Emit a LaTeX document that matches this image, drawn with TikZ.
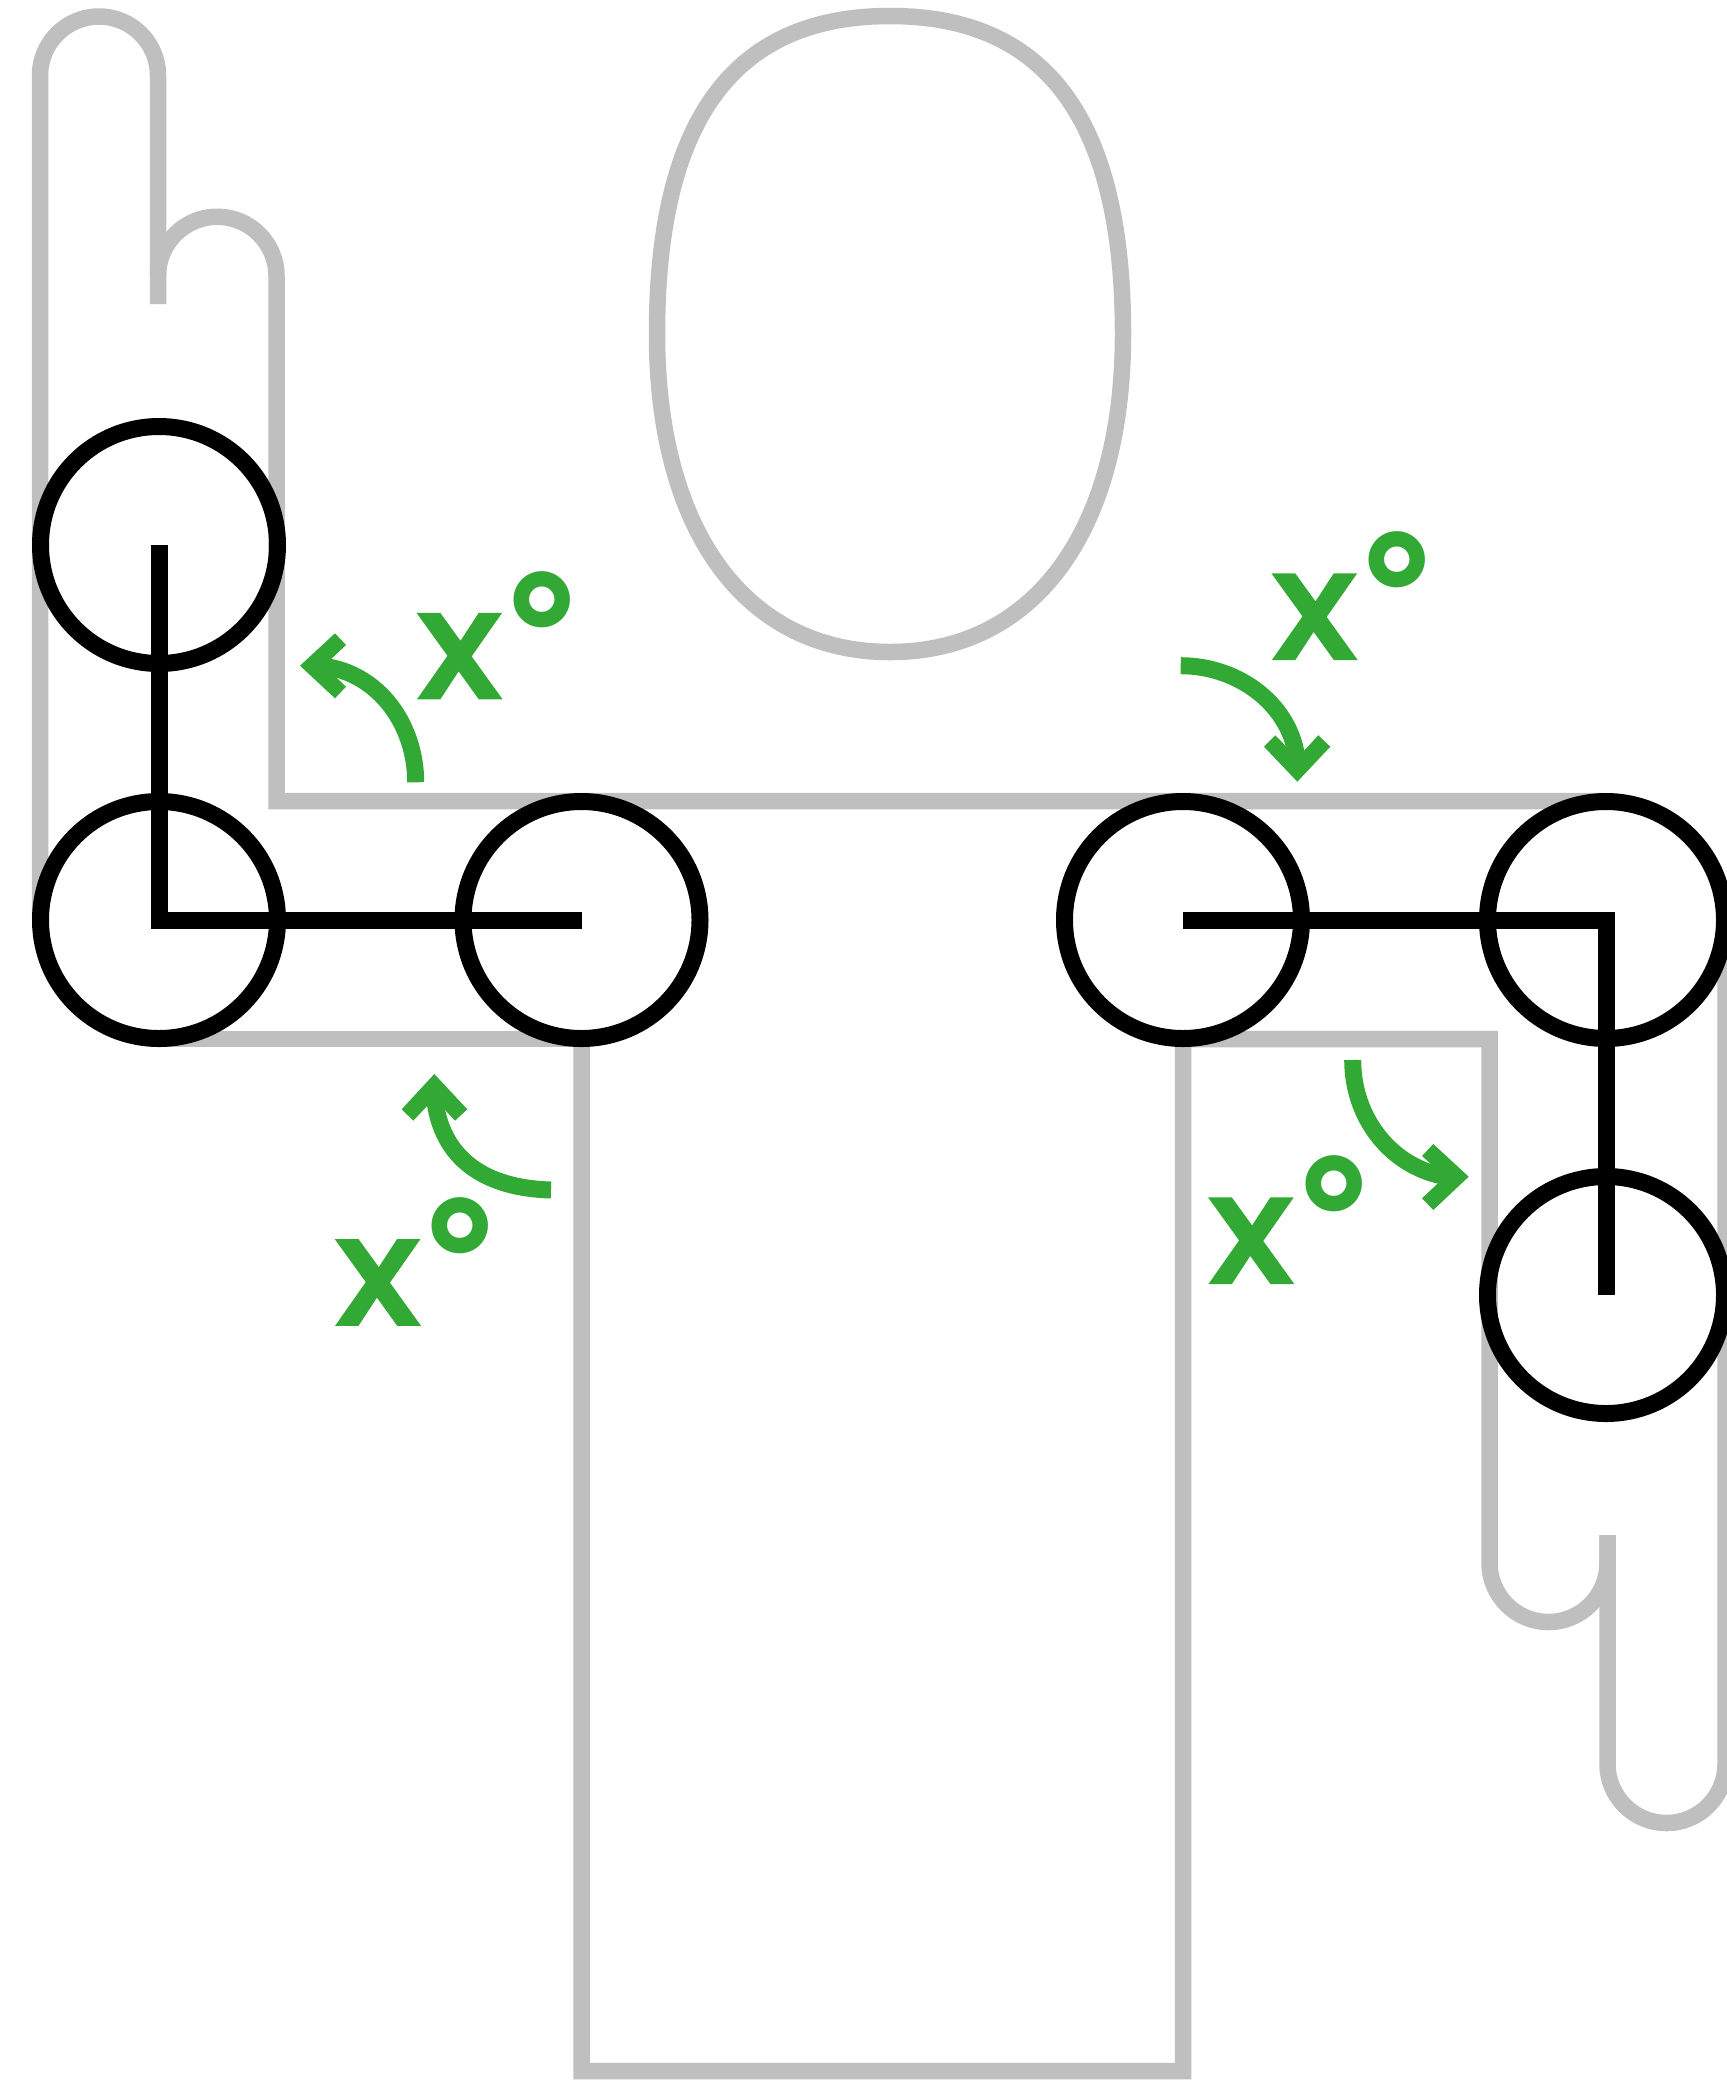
\documentclass[tikz,border=0pt]{standalone}
\usepackage{fontspec}
\newfontfamily\xfont[FakeStretch=1.12,FakeBold=1.2]{Poppins SemiBold}
\newfontfamily\degfont{Open Sans}
\definecolor{limb}{HTML}{BFBFBF}
\definecolor{turn}{HTML}{33A935}
\newcommand{\xdeg}{\fontsize{122}{122}\selectfont\xfont X\makebox[0pt][l]{\hspace{0pt}\raisebox{6.5pt}{\fontsize{167}{167}\selectfont\degfont\bfseries °}}}
\tikzset{
  x=1pt,y=-1pt,
  outline/.style={draw=limb,line width=16.5pt,miter limit=10},
  joint/.style={circle,draw=black,line width=17pt,minimum size=237pt,inner sep=0pt,outer sep=0pt},
  bone/.style={draw=black,line width=17pt,miter limit=10},
  shaft/.style={draw=turn,line width=17pt},
  chevron/.style={fill=turn,draw=none},
  angle label/.style={anchor=base west,inner sep=0pt,outer sep=0pt,text=turn}
}
\begin{document}
\begin{tikzpicture}
\useasboundingbox (0,0) rectangle (1727,2081);
\clip (0,0) rectangle (1727,2081);
% head
\draw[outline] (657,334) .. controls (657,125) and (730,16) .. (890,16)
  .. controls (1050,16) and (1123,125) .. (1123,334)
  .. controls (1123,530) and (1035,652) .. (890,652)
  .. controls (745,652) and (657,530) .. (657,334) -- cycle;
% left hand and arm
\draw[outline] (40,920) -- (40,75.5) arc[start angle=180,end angle=360,radius=59] -- (158,304);
\draw[outline] (158,276) arc[start angle=180,end angle=360,radius=59.25] -- (276.5,801) -- (1606,801);
\draw[outline] (159,1039) -- (581.5,1039);
% torso
\draw[outline] (581.5,1039) -- (581.5,2071) -- (1183,2071) -- (1183,1039) -- (1489.5,1039) -- (1489.5,1563)
  arc[start angle=180,end angle=0,radius=59] -- (1607.5,1535);
\draw[outline] (1607.5,1535) -- (1607.5,1764) arc[start angle=180,end angle=0,radius=59] -- (1725.5,920);
% joints
\node[joint] (lh) at (159,545) {};
\node[joint] (le) at (159,920) {};
\node[joint] (ls) at (581.5,920) {};
\node[joint] (rs) at (1183,920) {};
\node[joint] (re) at (1606,920) {};
\node[joint] (rh) at (1606,1295) {};
\draw[bone] (lh.center) -- (le.center) -- (ls.center);
\draw[bone] (rs.center) -- (re.center) -- (rh.center);
% turn arrows
\draw[shaft] (415.7,782.3) .. controls (415.7,726) and (380,673) .. (322,666);
\fill[chevron] (300,665.7) -- (335,633.3) -- (346,645) -- (324,665.7) -- (346,686.7) -- (335,698.3) -- cycle;
\draw[shaft] (551,1190) .. controls (486.7,1188.3) and (440,1160) .. (434.3,1095);
\fill[chevron] (434.3,1074) -- (401.7,1109.3) -- (413.3,1120.7) -- (434.3,1098.3) -- (455,1120.7) -- (467.3,1109.3) -- cycle;
\draw[shaft] (1180.7,665.7) .. controls (1240,665.7) and (1293.3,706.7) .. (1297.3,763);
\fill[chevron] (1297.3,781.7) -- (1264,746.7) -- (1275.3,735.3) -- (1297.3,758) -- (1318.3,735.3) -- (1330.3,746.7) -- cycle;
\draw[shaft] (1352.7,1060) .. controls (1352.7,1120) and (1393.3,1168.3) .. (1446.7,1176.7);
\fill[chevron] (1468.7,1176.7) -- (1433.3,1144) -- (1422,1156) -- (1445,1176.7) -- (1422,1198.3) -- (1433.3,1210) -- cycle;
% labels
\node[angle label] (a1) at (412.7,698.7) {\xdeg};
\node[angle label] (a2) at (331,1325) {\xdeg};
\node[angle label] (a3) at (1267.7,659.3) {\xdeg};
\node[angle label] (a4) at (1204.3,1283.3) {\xdeg};
\end{tikzpicture}
\end{document}
